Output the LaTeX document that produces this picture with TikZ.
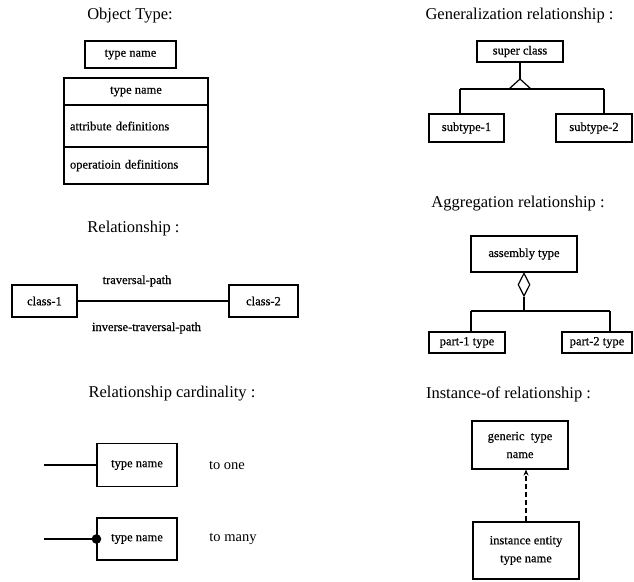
\documentclass[tikz,border=0pt]{standalone}
\usepackage{fontspec}
\setmainfont{Liberation Serif}
\newfontfamily\heavyserif{Liberation Serif}[FakeBold=0.5]
\usetikzlibrary{shapes.geometric,arrows.meta}
\begin{document}
\begin{tikzpicture}[x=1pt,y=-1pt,
  title/.style={font=\fontsize{16.5}{19}\selectfont, inner sep=0pt},
  box/.style={draw, line width=1.1pt, rectangle, inner sep=2pt,
    font=\heavyserif\fontsize{12.5}{18}\selectfont, align=center},
  lbl/.style={font=\heavyserif\fontsize{12.5}{15}\selectfont, inner sep=0pt},
  side/.style={font=\fontsize{14.5}{17}\selectfont, inner sep=0pt},
  conn/.style={line width=1.2pt},
]
\useasboundingbox (0,0) rectangle (634,581);

% ---------- Object type ----------
\node[title] (ttobj) at (130,16) {Object Type:};
\node[box, minimum width=91, minimum height=27] (tname) at (130.5,54.5) {type name};
\node[box, minimum width=144, minimum height=27] (hdr) at (136,91.5) {type name};
\node[box, minimum width=144, minimum height=42, text width=132, align=left, inner xsep=6pt] (attr) at (136,126) {attribute definitions};
\node[box, minimum width=144, minimum height=37, text width=132, align=left, inner xsep=6pt] (ops) at (136,165.5) {operatioin definitions};

% ---------- Relationship ----------
\node[title] (ttrel) at (133.5,229) {Relationship :};
\node[box, minimum width=65, minimum height=32] (c1) at (44.5,301) {class-1};
\node[box, minimum width=69, minimum height=32] (c2) at (263.5,301) {class-2};
\draw[conn] (c1) -- (c2);
\node[lbl] (tp) at (137,281) {traversal-path};
\node[lbl] (itp) at (146.5,328) {inverse-traversal-path};

% ---------- Cardinality ----------
\node[title] (ttcard) at (172,394) {Relationship cardinality :};
\node[box, minimum width=80, minimum height=43] (one) at (137,465) {type name};
\node[box, minimum width=80, minimum height=42] (many) at (137,539) {type name};
\coordinate (onefree) at (44,465);
\coordinate (manyfree) at (44,539);
\draw[line width=1.4pt] (onefree) -- (one.west);
\draw[line width=1.5pt] (manyfree) -- (many.west);
\fill (many.west) circle (4.8);
\node[side] (toone) at (227,465) {to one};
\node[side] (tomany) at (233,539) {to many};

% ---------- Generalization ----------
\node[title] (ttgen) at (519.5,16) {Generalization relationship :};
\node[box, minimum width=86, minimum height=21] (sup) at (520,51.5) {super class};
\node[box, minimum width=75, minimum height=28] (sub1) at (466.5,128) {subtype-1};
\node[box, minimum width=76, minimum height=28] (sub2) at (594,128) {subtype-2};
\coordinate (gapex) at (520,79);
\coordinate (gl) at (460,89);
\coordinate (gr) at (604,89);
\draw[conn] (sup.south) -- (gapex);
\draw[conn] (gapex) -- ++(-11,10) -- ++(22,0) -- cycle;
\draw[conn] (gl) -- (gr);
\draw[conn] (gl) -- (gl |- sub1.north);
\draw[conn] (gr) -- (gr |- sub2.north);

% ---------- Aggregation ----------
\node[title] (ttagg) at (518,204) {Aggregation relationship :};
\node[box, minimum width=106, minimum height=36] (asm) at (524,254) {assembly type};
\node[draw, line width=1.2pt, diamond, inner sep=0pt, minimum width=12, minimum height=23, anchor=north] (dia) at (asm.south) {};
\node[box, minimum width=76, minimum height=21] (p1) at (467,342.5) {part-1 type};
\node[box, minimum width=70, minimum height=21] (p2) at (597,342.5) {part-2 type};
\coordinate (al) at (471,311);
\coordinate (ar) at (610,311);
\coordinate (amid) at (asm.south |- al);
\draw[conn] (dia.south) -- (amid);
\draw[conn] (al) -- (ar);
\draw[conn] (al) -- (al |- p1.north);
\draw[conn] (ar) -- (ar |- p2.north);

% ---------- Instance-of ----------
\node[title] (ttinst) at (508.5,394) {Instance-of relationship :};
\node[box, minimum width=96, minimum height=48] (gen) at (520,445) {generic\ \ type\\name};
\node[box, minimum width=106, minimum height=57] (inst) at (526,550.5) {instance entity\\type name};
\draw[line width=1.2pt, dashed, dash pattern=on 5pt off 3pt, -{Stealth[length=6pt,width=5pt]}] (inst.north) -- (inst.north |- gen.south);
\end{tikzpicture}
\end{document}
